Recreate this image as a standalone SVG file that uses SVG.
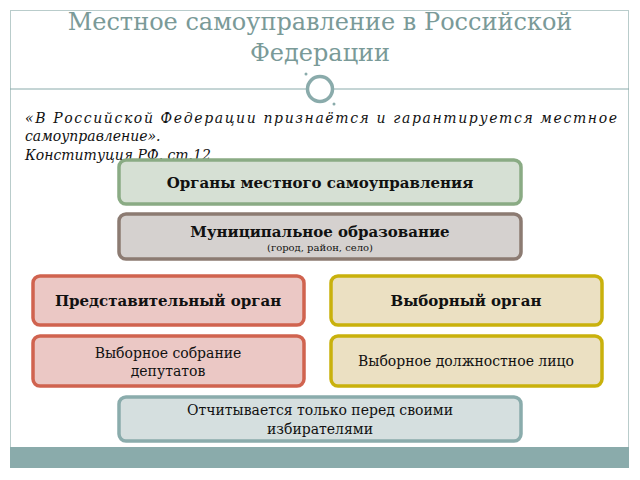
<svg xmlns="http://www.w3.org/2000/svg" width="640" height="480" viewBox="0 0 640 480">
<style>
text{font-family:"DejaVu Serif","Liberation Serif",serif;fill:#111}
.t{fill:#7a9a98;font-size:24px}
.q{font-style:italic;font-size:14px}
.b{font-weight:bold;font-size:15px}
.n{font-size:14px}
.s{font-size:10px}
rect.nd{stroke-width:3.5}
</style>
<rect x="0" y="0" width="640" height="480" fill="#fff"/>
<rect x="10.5" y="10.5" width="618" height="457" fill="none" stroke="#b9cccb"/>
<rect x="10" y="447" width="619" height="21" fill="#8aabab"/>
<text class="t" x="320" y="30" text-anchor="middle">Местное самоуправление в Российской</text>
<text class="t" x="320" y="61" text-anchor="middle">Федерации</text>
<line x1="10" y1="89" x2="306" y2="89" stroke="#8aabab"/>
<line x1="334" y1="89" x2="629" y2="89" stroke="#8aabab"/>
<circle cx="320" cy="89" r="12.5" fill="none" stroke="#8aabab" stroke-width="3.5"/>
<circle cx="306" cy="74" r="1.5" fill="#8aabab"/>
<circle cx="334" cy="104" r="1.5" fill="#8aabab"/>
<text class="q" x="25" y="123" textLength="592" lengthAdjust="spacing">«В Российской Федерации признаётся и гарантируется местное</text>
<text class="q" x="25" y="141">самоуправление».</text>
<text class="q" x="25" y="160">Конституция РФ, ст.12</text>
<g id="n1"><rect class="nd" x="119" y="160" width="402" height="44" rx="7" fill="#d6e0d4" stroke="#8aab84"/><text class="b" x="320" y="188" text-anchor="middle">Органы местного самоуправления</text></g>
<g id="n2"><rect class="nd" x="119" y="214" width="402" height="45" rx="7" fill="#d5d1cf" stroke="#8c7b72"/><text class="b" x="320" y="237" text-anchor="middle">Муниципальное образование</text><text class="s" x="320" y="251" text-anchor="middle">(город, район, село)</text></g>
<g id="n3"><rect class="nd" x="33" y="276" width="271" height="49" rx="7" fill="#ebc8c5" stroke="#d0634f"/><text class="b" x="168" y="306" text-anchor="middle" font-size="14">Представительный орган</text></g>
<g id="n4"><rect class="nd" x="331" y="276" width="271" height="49" rx="7" fill="#ebe0c2" stroke="#c9b10c"/><text class="b" x="466" y="306" text-anchor="middle" font-size="14">Выборный орган</text></g>
<g id="n5"><rect class="nd" x="33" y="336" width="271" height="50" rx="7" fill="#ebc8c5" stroke="#d0634f"/><text class="n" x="168" y="358" text-anchor="middle">Выборное собрание</text><text class="n" x="168" y="376" text-anchor="middle">депутатов</text></g>
<g id="n6"><rect class="nd" x="331" y="336" width="271" height="50" rx="7" fill="#ebe0c2" stroke="#c9b10c"/><text class="n" x="466" y="366" text-anchor="middle">Выборное должностное лицо</text></g>
<g id="n7"><rect class="nd" x="119" y="397" width="402" height="44" rx="7" fill="#d5dfdf" stroke="#8aacac"/><text class="n" x="320" y="415" text-anchor="middle">Отчитывается только перед своими</text><text class="n" x="320" y="434" text-anchor="middle">избирателями</text></g>
<g id="connectors"></g>
</svg>
